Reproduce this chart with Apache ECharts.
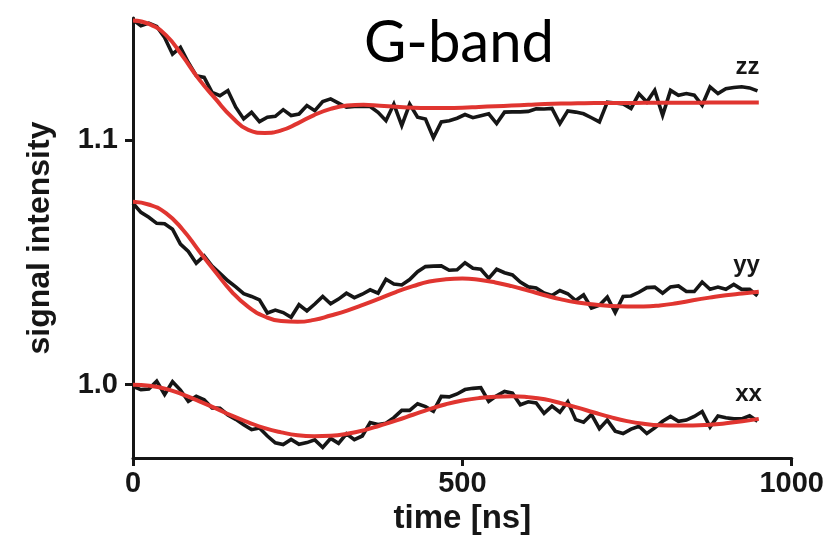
<!DOCTYPE html>
<html>
<head>
<meta charset="utf-8">
<script src="https://cdn.jsdelivr.net/npm/echarts@6/dist/echarts.min.js"></script>
<style>
  html, body { margin: 0; padding: 0; background: #ffffff; }
  #chart { width: 827px; height: 549px; }
</style>
</head>
<body>
<div id="chart"></div>
<script>
// Sampling times of the measured traces (ns)
const timeNs = [0, 12, 24, 36, 48, 60, 72, 84, 96, 108, 120, 132, 144, 156, 168, 180, 192, 204, 216, 228,
  240, 252, 264, 276, 288, 300, 312, 324, 336, 348, 360, 372, 384, 396, 408, 420, 432, 444, 456, 468,
  480, 492, 504, 516, 528, 540, 552, 564, 576, 588, 600, 612, 624, 636, 648, 660, 672, 684, 696, 708,
  720, 732, 744, 756, 768, 780, 792, 804, 816, 828, 840, 852, 864, 876, 888, 900, 912, 924, 936, 948];

// Measured signal, zz orientation
const zzData = [1.1493, 1.1468, 1.1479, 1.1465, 1.1420, 1.1352, 1.1380, 1.1318, 1.1264, 1.1257,
  1.1196, 1.1182, 1.1203, 1.1135, 1.1087, 1.1114, 1.1076, 1.1094, 1.1098, 1.1125,
  1.1101, 1.1107, 1.1142, 1.1121, 1.1158, 1.1169, 1.1152, 1.1135, 1.1138, 1.1138,
  1.1138, 1.1114, 1.1080, 1.1148, 1.1060, 1.1148, 1.1094, 1.1087, 1.1010, 1.1075,
  1.1080, 1.1090, 1.1105, 1.1092, 1.1100, 1.1108, 1.1068, 1.1115, 1.1116, 1.1116,
  1.1118, 1.1129, 1.1128, 1.1130, 1.1068, 1.1120, 1.1115, 1.1108, 1.1092, 1.1075,
  1.1156, 1.1152, 1.1148, 1.1130, 1.1190, 1.1156, 1.1204, 1.1102, 1.1204, 1.1184,
  1.1191, 1.1184, 1.1143, 1.1218, 1.1191, 1.1211, 1.1216, 1.1219, 1.1214, 1.1202];

// Measured signal, yy orientation
const yyData = [1.0742, 1.0705, 1.0685, 1.0660, 1.0658, 1.0636, 1.0575, 1.0545, 1.0497, 1.0527,
  1.0485, 1.0455, 1.0425, 1.0400, 1.0372, 1.0361, 1.0347, 1.0293, 1.0305, 1.0295,
  1.0276, 1.0327, 1.0302, 1.0330, 1.0361, 1.0331, 1.0350, 1.0374, 1.0356, 1.0370,
  1.0388, 1.0374, 1.0431, 1.0412, 1.0408, 1.0430, 1.0462, 1.0483, 1.0485, 1.0486,
  1.0468, 1.0470, 1.0499, 1.0476, 1.0472, 1.0435, 1.0472, 1.0458, 1.0449, 1.0420,
  1.0400, 1.0396, 1.0375, 1.0365, 1.0385, 1.0372, 1.0344, 1.0367, 1.0313, 1.0325,
  1.0358, 1.0295, 1.0361, 1.0363, 1.0378, 1.0397, 1.0399, 1.0374, 1.0400, 1.0404,
  1.0381, 1.0381, 1.0420, 1.0390, 1.0399, 1.0390, 1.0410, 1.0390, 1.0390, 1.0363];

// Measured signal, xx orientation
const xxData = [0.9993, 0.9980, 0.9982, 1.0014, 0.9960, 1.0012, 0.9978, 0.9932, 0.9952, 0.9938,
  0.9905, 0.9903, 0.9876, 0.9858, 0.9836, 0.9816, 0.9823, 0.9790, 0.9762, 0.9755,
  0.9776, 0.9756, 0.9763, 0.9774, 0.9743, 0.9780, 0.9760, 0.9799, 0.9775, 0.9790,
  0.9845, 0.9837, 0.9842, 0.9865, 0.9895, 0.9895, 0.9922, 0.9910, 0.9891, 0.9952,
  0.9950, 0.9962, 0.9980, 0.9985, 0.9988, 0.9932, 0.9955, 0.9972, 0.9965, 0.9918,
  0.9930, 0.9925, 0.9883, 0.9912, 0.9887, 0.9930, 0.9857, 0.9846, 0.9878, 0.9820,
  0.9855, 0.9810, 0.9800, 0.9818, 0.9830, 0.9800, 0.9823, 0.9850, 0.9870, 0.9850,
  0.9855, 0.9870, 0.9890, 0.9827, 0.9872, 0.9865, 0.9860, 0.9860, 0.9873, 0.9850];

// Time points of the fitted curves (ns)
const fitTimeNs = [0, 25, 50, 75, 100, 125, 150, 175, 200, 225, 250, 275, 300, 325, 350, 375, 400,
  425, 450, 475, 500, 525, 550, 575, 600, 625, 650, 675, 700, 725, 750, 775, 800, 825, 850, 875,
  900, 925, 950];

// Fitted curves
const zzFit = [1.1490, 1.1475, 1.1430, 1.1345, 1.1250, 1.1170, 1.1095, 1.1042, 1.1030, 1.1040,
  1.1069, 1.1103, 1.1128, 1.1142, 1.1145, 1.1141, 1.1137, 1.1133, 1.1132, 1.1132,
  1.1133, 1.1136, 1.1139, 1.1142, 1.1145, 1.1148, 1.1150, 1.1151, 1.1152, 1.1152,
  1.1152, 1.1153, 1.1153, 1.1153, 1.1153, 1.1154, 1.1154, 1.1154, 1.1154];
const yyFit = [1.0748, 1.0736, 1.0702, 1.0636, 1.0548, 1.0462, 1.0380, 1.0318, 1.0279, 1.0260,
  1.0257, 1.0265, 1.0283, 1.0303, 1.0327, 1.0353, 1.0380, 1.0403, 1.0422, 1.0431,
  1.0434, 1.0429, 1.0418, 1.0403, 1.0385, 1.0366, 1.0349, 1.0336, 1.0328, 1.0322,
  1.0320, 1.0320, 1.0324, 1.0333, 1.0345, 1.0356, 1.0366, 1.0373, 1.0380];
const xxFit = [1.0000, 0.9996, 0.9983, 0.9960, 0.9933, 0.9904, 0.9873, 0.9846, 0.9822, 0.9805,
  0.9793, 0.9789, 0.9791, 0.9799, 0.9813, 0.9833, 0.9854, 0.9877, 0.9900, 0.9920,
  0.9935, 0.9945, 0.9951, 0.9953, 0.9949, 0.9940, 0.9924, 0.9906, 0.9886, 0.9867,
  0.9851, 0.9840, 0.9834, 0.9833, 0.9833, 0.9836, 0.9842, 0.9850, 0.9860];

// Trace names and axis tick values
const traceNames = ['zz', 'yy', 'xx'];
const xTicks = [0, 500, 1000];
const yTicks = [1.0, 1.1];

const FONT = "'Liberation Sans', Arial, sans-serif";
const INK = '#161616';

const zip = (xs, ys) => xs.map((x, i) => [x, ys[i]]);

const measured = [zzData, yyData, xxData];
const fits = [zzFit, yyFit, xxFit];
const labelOffsets = [[-10, -23], [-11, -31], [-9, -27]];

const series = [];
measured.forEach((vals, i) => {
  series.push({
    name: traceNames[i] + ' data',
    type: 'line',
    data: zip(timeNs, vals),
    showSymbol: false,
    symbol: 'none',
    lineStyle: { color: INK, width: 3.6, join: 'miter', miterLimit: 4 },
    z: 2
  });
});
fits.forEach((vals, i) => {
  series.push({
    name: traceNames[i] + ' fit',
    type: 'line',
    data: zip(fitTimeNs, vals),
    smooth: true,
    showSymbol: false,
    symbol: 'none',
    lineStyle: { color: '#e03530', width: 4 },
    z: 3
  });
});
// Orientation tags placed near the end of each measured trace
series.push({
  type: 'scatter',
  symbolSize: 0,
  silent: true,
  itemStyle: { opacity: 1 },
  data: measured.map((vals, i) => ({
    value: [timeNs[timeNs.length - 1], vals[vals.length - 1]],
    label: {
      show: true,
      formatter: traceNames[i],
      position: 'inside',
      offset: labelOffsets[i],
      fontFamily: FONT,
      fontSize: 24,
      fontWeight: 'bold',
      color: INK,
      opacity: 1
    }
  })),
  z: 4
});

const chart = echarts.init(document.getElementById('chart'), null, { renderer: 'canvas' });
chart.setOption({
  animation: false,
  backgroundColor: '#ffffff',
  textStyle: { fontFamily: FONT },
  title: {
    text: 'G-band',
    left: 454,
    top: 9,
    textAlign: 'center',
    textStyle: { fontFamily: 'Lato, sans-serif', fontSize: 58, fontWeight: 'normal', color: '#000000' }
  },
  grid: { left: 133, right: 35, top: 18, bottom: 91, containLabel: false },
  xAxis: {
    type: 'value',
    min: 0,
    max: 1000,
    interval: 500,
    name: 'time [ns]',
    nameLocation: 'middle',
    nameGap: 43,
    nameTextStyle: { fontFamily: FONT, fontSize: 33, fontWeight: 'bold', color: INK },
    axisLine: { show: true, lineStyle: { color: INK, width: 3 } },
    axisTick: { show: true, inside: false, length: 8, lineStyle: { color: INK, width: 3 }, customValues: xTicks },
    axisLabel: {
      customValues: xTicks,
      margin: 11,
      formatter: v => String(v),
      fontFamily: FONT,
      fontSize: 29,
      fontWeight: 'bold',
      color: INK
    },
    splitLine: { show: false }
  },
  yAxis: {
    type: 'value',
    min: 0.97,
    max: 1.15,
    name: 'signal intensity',
    nameLocation: 'middle',
    nameGap: 77,
    nameRotate: 90,
    nameTextStyle: { fontFamily: FONT, fontSize: 32, fontWeight: 'bold', color: INK },
    axisLine: { show: true, lineStyle: { color: INK, width: 3 } },
    axisTick: { show: true, inside: false, length: 8, lineStyle: { color: INK, width: 3 }, customValues: yTicks },
    axisLabel: {
      customValues: yTicks,
      margin: 15,
      formatter: v => v.toFixed(1),
      fontFamily: FONT,
      fontSize: 29,
      fontWeight: 'bold',
      color: INK
    },
    splitLine: { show: false }
  },
  series: series
});
</script>
</body>
</html>
